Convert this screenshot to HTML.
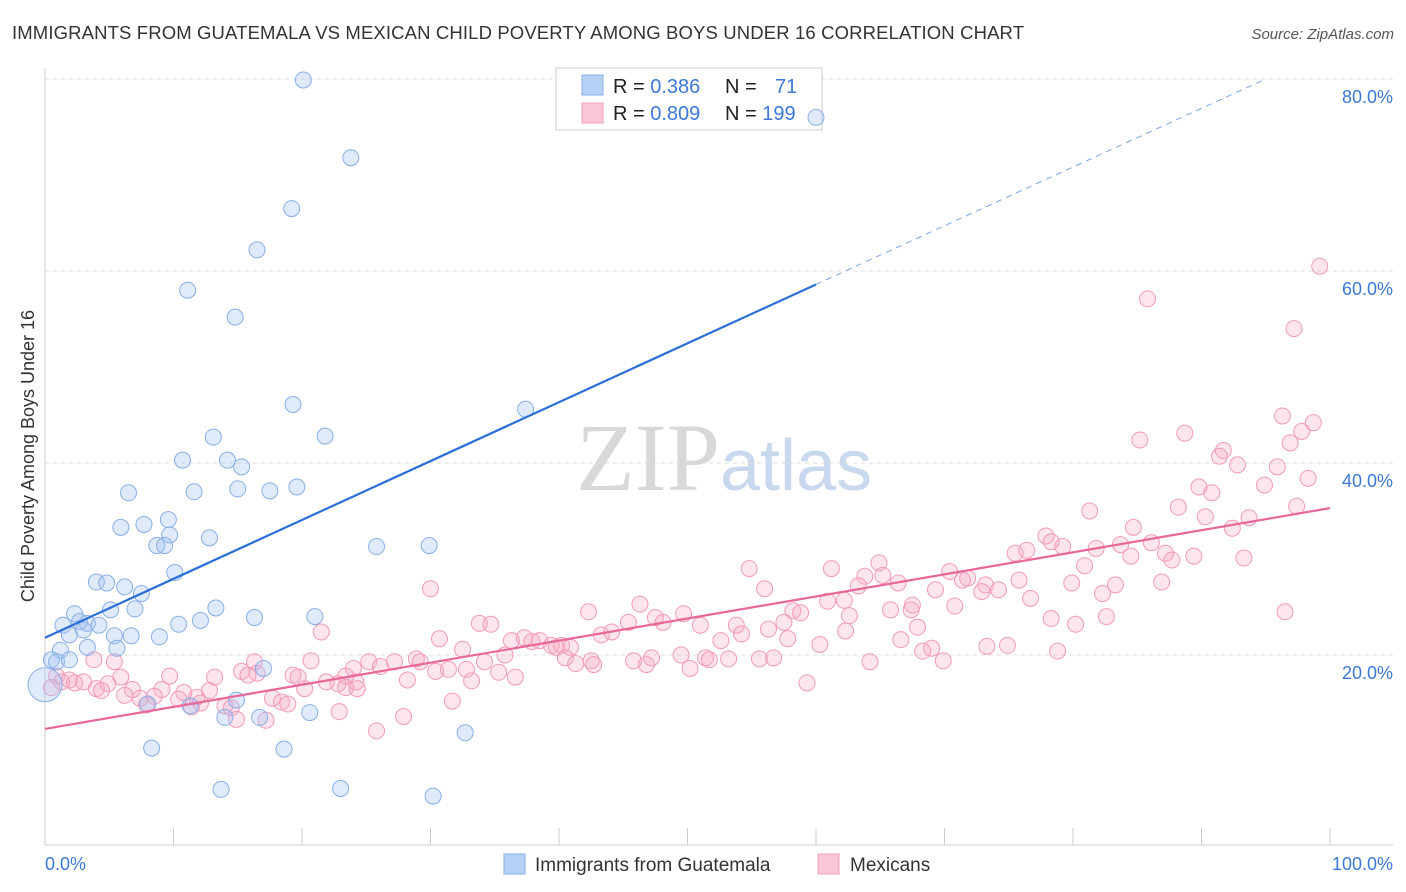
<!DOCTYPE html>
<html><head><meta charset="utf-8"><style>
body{margin:0;background:#fff;font-family:"Liberation Sans",sans-serif}
svg{display:block}
</style></head><body>
<svg id="c" width="1406" height="892" font-family="Liberation Sans, sans-serif">
<text x="12" y="39" font-size="18.5" fill="#333" textLength="1012" lengthAdjust="spacing">IMMIGRANTS FROM GUATEMALA VS MEXICAN CHILD POVERTY AMONG BOYS UNDER 16 CORRELATION CHART</text>
<text x="1394" y="39" font-size="15" fill="#555" font-style="italic" text-anchor="end">Source: ZipAtlas.com</text>
<text x="720" y="490" font-size="96" fill="#d8d8d8" text-anchor="end" font-family="Liberation Serif, serif">ZIP</text>
<text x="720" y="490" font-size="72" fill="#c8d8ee">atlas</text>
<text transform="translate(34,456) rotate(-90)" font-size="18" fill="#333" text-anchor="middle">Child Poverty Among Boys Under 16</text>
<g id="grid"></g>
<g>
<rect x="556" y="68" width="266" height="62" fill="#fff" stroke="#ccc"/>
<rect x="582" y="75" width="21" height="20" fill="#b7d0f5" stroke="#8ab0ea"/>
<rect x="582" y="103" width="21" height="20" fill="#f9c6d6" stroke="#f0a0bc"/>
<text x="613" y="93" font-size="20" fill="#222">R = <tspan fill="#3b78d8">0.386</tspan></text>
<text x="725" y="93" font-size="20" fill="#222">N = <tspan fill="#3b78d8" x="775">71</tspan></text>
<text x="613" y="120" font-size="20" fill="#222">R = <tspan fill="#3b78d8">0.809</tspan></text>
<text x="725" y="120" font-size="20" fill="#222">N = <tspan fill="#3b78d8">199</tspan></text>
</g>
<g id="marks"></g>
<g>
<rect x="504" y="854" width="21" height="20" fill="#b7d0f5" stroke="#8ab0ea"/>
<text x="535" y="871" font-size="19" fill="#333">Immigrants from Guatemala</text>
<rect x="818" y="854" width="21" height="20" fill="#f9c6d6" stroke="#f0a0bc"/>
<text x="850" y="871" font-size="19" fill="#333">Mexicans</text>
</g>
</svg>
<script>
const yTicks=[20,40,60,80];
const xTickLabels=["0.0%","100.0%"];
const blueX=[20.1,60.0,23.8,19.2,16.5,11.1,14.8,19.3,37.4,13.1,21.8,10.7,14.2,15.3,6.5,11.6,15.0,17.5,19.6,9.6,5.9,7.7,9.7,12.8,8.7,9.3,25.8,29.9,10.1,4.0,4.8,6.2,7.5,2.3,5.1,7.0,13.3,16.3,21.0,1.4,2.7,3.3,4.2,10.4,12.1,1.9,3.0,5.4,6.7,8.9,1.2,3.3,5.6,0.5,0.9,1.9,17.0,14.9,8.0,11.3,14.0,16.7,20.6,32.7,8.3,18.6,13.7,23.0,30.2,0.0];
const blueY=[79.9,76.0,71.8,66.5,62.2,58.0,55.2,46.1,45.6,42.7,42.8,40.3,40.3,39.6,36.9,37.0,37.3,37.1,37.5,34.1,33.3,33.6,32.5,32.2,31.4,31.4,31.3,31.4,28.6,27.6,27.5,27.1,26.4,24.3,24.7,24.8,24.9,23.9,24.0,23.1,23.5,23.3,23.1,23.2,23.6,22.1,22.6,22.0,22.0,21.9,20.5,20.8,20.7,19.5,19.3,19.5,18.6,15.3,14.9,14.7,13.5,13.5,14.0,11.9,10.3,10.2,6.0,6.1,5.3,16.9];
const pinkX=[99.2,85.8,97.2,96.3,98.7,97.8,85.2,88.7,96.9,91.7,91.4,92.8,95.9,98.3,94.9,89.8,90.8,81.3,88.2,97.4,93.7,90.3,84.7,77.9,92.4,78.3,83.7,86.1,76.4,75.5,79.2,81.8,87.2,84.5,89.4,87.7,93.3,64.9,80.9,54.8,61.2,70.4,75.8,63.8,65.2,66.4,71.4,71.8,73.2,74.2,79.9,83.3,86.9,30.0,56.0,63.3,69.3,82.3,72.9,46.3,60.9,62.2,67.5,70.8,76.7,96.5,42.3,49.7,58.2,58.8,65.8,67.4,78.3,82.6,47.5,48.1,45.4,57.5,62.6,33.8,34.7,51.0,53.8,80.2,21.5,54.2,56.3,62.3,67.9,43.3,44.1,30.7,36.3,37.3,37.9,38.5,39.4,39.8,52.6,57.8,60.3,66.6,73.3,74.9,40.2,40.9,32.5,69.0,68.3,78.8,35.8,49.5,47.2,51.4,55.6,3.8,28.9,27.2,29.2,34.2,40.5,42.5,45.8,53.2,51.7,56.7,64.2,69.9,5.4,16.3,20.7,25.2,41.3,42.7,46.8,50.2,24.0,26.1,30.4,31.4,32.8,35.3,36.6,33.2,28.2,15.3,16.5,9.7,13.2,15.8,19.3,19.7,23.4,5.9,0.9,1.3,1.9,2.3,3.0,4.0,4.9,21.9,22.8,24.2,0.5,6.8,9.1,10.8,12.8,20.2,23.4,24.3,4.4,6.2,7.4,8.5,10.4,11.8,17.7,18.4,18.9,7.9,11.4,12.1,14.0,14.5,31.7,22.9,27.9,14.9,17.2,25.8,59.3];
const pinkY=[60.5,57.1,54.0,44.9,44.2,43.3,42.4,43.1,42.1,41.3,40.7,39.8,39.6,38.4,37.7,37.5,36.9,35.0,35.4,35.5,34.3,34.4,33.3,32.4,33.2,31.8,31.5,31.7,30.9,30.6,31.3,31.1,30.6,30.3,30.3,29.9,30.1,29.6,29.3,29.0,29.0,28.7,27.8,28.2,28.3,27.5,27.8,28.0,27.3,26.8,27.5,27.3,27.6,26.9,26.9,27.2,26.8,26.4,26.6,25.3,25.6,25.7,25.2,25.1,25.9,24.5,24.5,24.3,24.6,24.4,24.7,24.7,23.8,24.0,23.9,23.4,23.4,23.4,24.1,23.3,23.2,23.1,23.1,23.2,22.4,22.2,22.7,22.5,22.9,22.1,22.4,21.7,21.5,21.8,21.4,21.5,21.0,20.8,21.5,21.7,21.1,21.6,20.9,21.0,21.0,20.8,20.6,20.7,20.4,20.4,20.0,20.0,19.7,19.7,19.6,19.5,19.6,19.3,19.3,19.3,19.7,19.4,19.4,19.6,19.5,19.7,19.3,19.4,19.3,19.3,19.4,19.3,19.1,19.0,19.0,18.6,18.6,18.8,18.3,18.5,18.5,18.2,17.7,17.3,17.4,18.3,18.1,17.8,17.7,17.9,17.9,17.7,17.8,17.7,17.8,17.2,17.4,17.1,17.2,16.5,17.0,17.2,17.0,17.2,16.6,16.4,16.4,16.1,16.3,16.5,16.6,16.5,16.3,15.8,15.5,15.7,15.4,15.6,15.5,15.1,14.9,14.8,14.6,15.0,14.7,14.5,15.2,14.1,13.6,13.3,13.2,12.1,17.1];
const blueTrendX=[0,60,95];
const blueTrendY=[21.8,58.6,80.0];
const pinkTrendX=[0,100];
const pinkTrendY=[12.3,35.3];
const NS="http://www.w3.org/2000/svg";
const sx=v=>45+v*12.85, sy=v=>847-v*9.6;
function mk(tag,attrs,parent){const e=document.createElementNS(NS,tag);for(const k in attrs)e.setAttribute(k,attrs[k]);parent.appendChild(e);return e;}
const grid=document.getElementById('grid'), marks=document.getElementById('marks');
yTicks.forEach(t=>{
 const l=mk('line',{x1:45,x2:1393,y1:sy(t),y2:sy(t),stroke:'#ddd','stroke-dasharray':'4 4'},grid);
 
 
 const tx=mk('text',{x:1393,y:sy(t)+24,'font-size':18,fill:'#3b78d8','text-anchor':'end'},grid);
 tx.textContent=t.toFixed(1)+'%';
 
 
});
const ya=mk('line',{x1:45,x2:45,y1:68,y2:845,stroke:'#ccc'},grid);


const xa=mk('line',{x1:45,x2:1393,y1:845,y2:845,stroke:'#ccc'},grid);


for(let i=1;i<=10;i++){const t=mk('line',{x1:sx(i*10),x2:sx(i*10),y1:828,y2:845,stroke:'#ccc'},grid);
 
 }
xTickLabels.forEach((s,i)=>{const t=mk('text',{x:i?1393:45,y:870,'font-size':18,fill:'#3b78d8','text-anchor':i?'end':'start'},grid);t.textContent=s;
 
 });
pinkX.forEach((x,i)=>{const c=mk('circle',{cx:sx(x),cy:sy(pinkY[i]),r:8,fill:'rgba(244,170,196,0.3)',stroke:'#f29ab8','stroke-width':1},marks);
 
 });
blueX.forEach((x,i)=>{const big=i===blueX.length-1;const c=mk('circle',{cx:sx(x),cy:sy(blueY[i]),r:big?17:8,fill:'rgba(164,194,244,0.35)',stroke:'#88afe8','stroke-width':1},marks);
 
 });
const bl=mk('line',{x1:sx(blueTrendX[0]),y1:sy(blueTrendY[0]),x2:sx(blueTrendX[1]),y2:sy(blueTrendY[1]),stroke:'#2a6fd6','stroke-width':2.2},marks);


const bd=mk('line',{x1:sx(blueTrendX[1]),y1:sy(blueTrendY[1]),x2:sx(blueTrendX[2]),y2:sy(blueTrendY[2]),stroke:'#7aa6e6','stroke-width':1,'stroke-dasharray':'6 5'},marks);


const pl=mk('line',{x1:sx(pinkTrendX[0]),y1:sy(pinkTrendY[0]),x2:sx(pinkTrendX[1]),y2:sy(pinkTrendY[1]),stroke:'#e8679a','stroke-width':2.2},marks);


</script>
</body></html>
